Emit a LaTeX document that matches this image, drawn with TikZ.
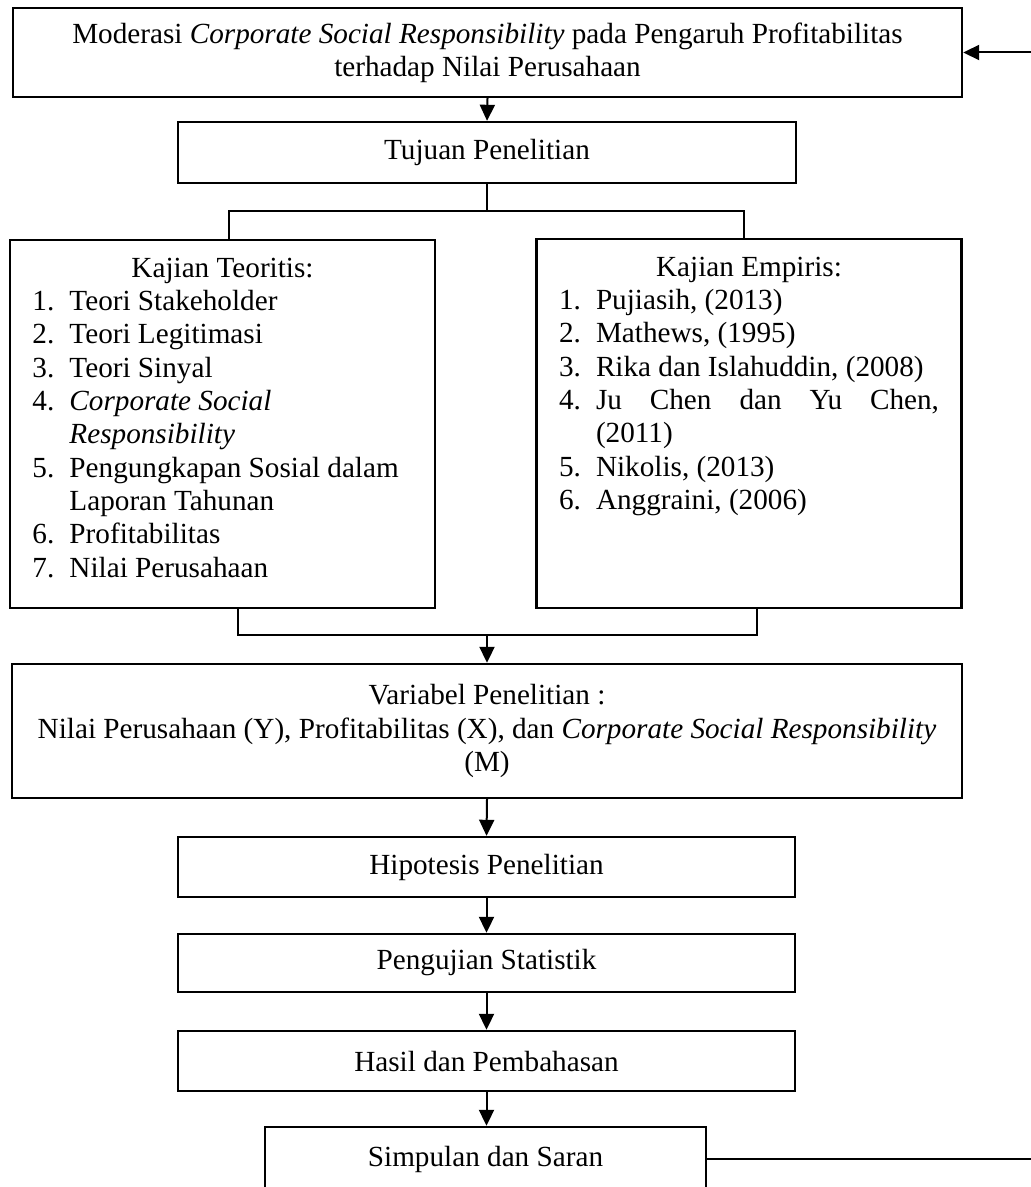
\documentclass[tikz,border=0pt]{standalone}
\usepackage{fontspec}
\setmainfont{Liberation Serif}
\usepackage{tikz}
\usetikzlibrary{arrows.meta}

\newcommand{\butir}[2]{\par\noindent\hangindent=18.5pt\hangafter=1\makebox[18.5pt][l]{#1.}#2}

\tikzset{
  kotak/.style={draw, line width=1.2pt, align=center, inner sep=0pt,
    font=\fontsize{14.6}{16.65}\selectfont},
  daftar/.style={draw, line width=1.2pt, inner xsep=11.25pt, inner ysep=0pt,
    font=\fontsize{14.6}{16.65}\selectfont},
  garis/.style={line width=1pt},
  panah/.style={line width=1pt, -{Triangle[length=8pt,width=7.5pt]}}
}

\begin{document}
\begin{tikzpicture}[x=0.5pt, y=-0.5pt]
\useasboundingbox (0,0) rectangle (1031,1187);

\node[kotak, minimum width=474.5pt, minimum height=44.5pt] (judul) at (487.5,52.5)
  {Moderasi \textit{Corporate Social Responsibility} pada Pengaruh Profitabilitas\\terhadap Nilai Perusahaan};
\node[kotak, minimum width=309pt, minimum height=30.5pt] (tujuan) at (487,152.5) {Tujuan Penelitian};

\node[daftar] (teori) at (222.5,424) {\parbox[c][184pt][t]{190pt}{\vspace*{9pt}%
  {\centering Kajian Teoritis:\par}\raggedright
  \butir{1}{Teori Stakeholder}
  \butir{2}{Teori Legitimasi}
  \butir{3}{Teori Sinyal}
  \butir{4}{\textit{Corporate Social Responsibility}}
  \butir{5}{Pengungkapan Sosial dalam Laporan Tahunan}
  \butir{6}{Profitabilitas}
  \butir{7}{Nilai Perusahaan}\par}};
\node[daftar] (empiris) at (749,423.5) {\parbox[c][184.5pt][t]{190pt}{\vspace*{9pt}%
  {\centering Kajian Empiris:\par}
  \butir{1}{Pujiasih, (2013)}
  \butir{2}{Mathews, (1995)}
  \butir{3}{Rika dan Islahuddin, (2008)}
  \butir{4}{Ju Chen dan Yu Chen,\linebreak (2011)}
  \butir{5}{Nikolis, (2013)}
  \butir{6}{Anggraini, (2006)}\par}};

\node[kotak, minimum width=475pt, minimum height=67pt] (variabel) at (487,731)
  {Variabel Penelitian :\\Nilai Perusahaan (Y), Profitabilitas (X), dan \textit{Corporate Social Responsibility}\\(M)};
\node[kotak, minimum width=308.5pt, minimum height=30pt] (hipotesis) at (486.5,867) {Hipotesis Penelitian};
\node[kotak, minimum width=308.5pt, minimum height=29pt] (uji) at (486.5,963) {Pengujian Statistik};
\node[kotak, minimum width=308.5pt, minimum height=30pt] (hasil) at (486.5,1061) {Hasil dan Pembahasan};
\node[kotak, minimum width=220.5pt, minimum height=32pt] (simpulan) at (485.5,1159) {Simpulan dan Saran};

% titik bantu
\coordinate (katas) at (1031,52.5);
\coordinate (kbawah) at (1031,1159);
\coordinate (fl) at (229,211);
\coordinate (fr) at (744,211);
\coordinate (bl) at (238,635);
\coordinate (br) at (757,635);

\draw[panah] (katas) -- (judul.east);
\draw[panah] (judul.south) -- (tujuan.north);
\draw[garis] (tujuan.south) -- (tujuan.south |- fl);
\draw[garis] (teori.north -| fl) -- (fl) -- (fr) -- (empiris.north -| fr);
\draw[garis] (teori.south -| bl) -- (bl) -- (br) -- (empiris.south -| br);
\draw[panah] (variabel.north |- bl) -- (variabel.north);
\draw[panah] (variabel.south) -- (hipotesis.north);
\draw[panah] (hipotesis.south) -- (uji.north);
\draw[panah] (uji.south) -- (hasil.north);
\draw[panah] (hasil.south) -- (simpulan.north -| hasil.south);
\draw[garis] (simpulan.east) -- (kbawah);
\end{tikzpicture}
\end{document}
